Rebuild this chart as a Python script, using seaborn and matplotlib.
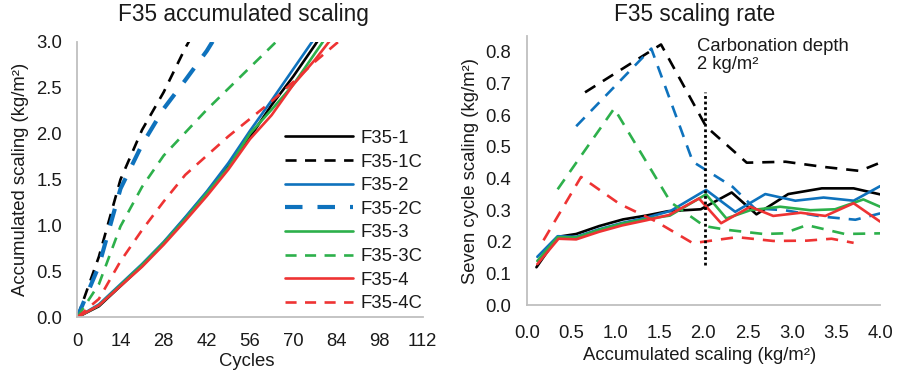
import numpy as np
import pandas as pd
import seaborn as sns
import matplotlib.pyplot as plt

# Left panel: accumulated scaling (kg/m2) every 7 cycles, starting at cycle 0
cum_f35_1 = [0, 0.12, 0.34, 0.56, 0.81, 1.08, 1.36, 1.65, 1.96, 2.31, 2.62, 2.96, 3.32]
cum_f35_1c = [0, 0.66, 1.50, 2.04, 2.45, 2.93, 3.35]
cum_f35_2 = [0, 0.14, 0.36, 0.58, 0.82, 1.09, 1.37, 1.68, 2.03, 2.36, 2.70, 3.04, 3.38]
cum_f35_2c = [0, 0.56, 1.40, 1.88, 2.27, 2.58, 2.90, 3.28]
cum_f35_3 = [0, 0.13, 0.35, 0.57, 0.81, 1.07, 1.35, 1.63, 2.00, 2.26, 2.53, 2.87, 3.21]
cum_f35_3c = [0, 0.36, 0.99, 1.42, 1.76, 2.01, 2.26, 2.49, 2.72, 2.95, 3.18]
cum_f35_4 = [0, 0.13, 0.34, 0.55, 0.79, 1.05, 1.32, 1.61, 1.94, 2.20, 2.53, 2.80, 3.10]
cum_f35_4c = [0, 0.20, 0.61, 0.95, 1.26, 1.55, 1.76, 1.97, 2.16, 2.35, 2.56, 2.78, 2.98, 3.18]

# Right panel: seven cycle scaling vs accumulated scaling
acc_f35_1 = [0.11, 0.35, 0.56, 0.82, 1.09, 1.35, 1.60, 1.97, 2.32, 2.60, 2.96, 3.34, 3.70, 4.00]
rate_f35_1 = [0.12, 0.216, 0.225, 0.25, 0.271, 0.283, 0.297, 0.303, 0.356, 0.287, 0.351, 0.369, 0.369, 0.35]
acc_f35_1c = [0.66, 1.52, 2.03, 2.49, 2.93, 3.35, 3.77, 4.00]
rate_f35_1c = [0.672, 0.823, 0.564, 0.45, 0.453, 0.437, 0.424, 0.45]
acc_f35_2 = [0.12, 0.35, 0.56, 0.82, 1.08, 1.35, 1.63, 2.03, 2.36, 2.70, 3.04, 3.36, 3.70, 4.00]
rate_f35_2 = [0.153, 0.218, 0.216, 0.24, 0.26, 0.276, 0.298, 0.364, 0.295, 0.351, 0.33, 0.34, 0.33, 0.376]
acc_f35_2c = [0.56, 1.41, 1.88, 2.33, 2.58, 2.92, 3.34, 3.72, 4.00]
rate_f35_2c = [0.565, 0.81, 0.453, 0.374, 0.306, 0.30, 0.28, 0.27, 0.29]
acc_f35_3 = [0.12, 0.35, 0.56, 0.82, 1.08, 1.35, 1.62, 2.03, 2.26, 2.53, 2.87, 3.21, 3.49, 3.81, 4.00]
rate_f35_3 = [0.14, 0.215, 0.214, 0.238, 0.258, 0.272, 0.283, 0.35, 0.274, 0.30, 0.311, 0.30, 0.303, 0.334, 0.311]
acc_f35_3c = [0.35, 0.99, 1.63, 2.01, 2.27, 2.68, 2.91, 3.17, 3.60, 4.00]
rate_f35_3c = [0.366, 0.621, 0.325, 0.25, 0.238, 0.225, 0.227, 0.253, 0.225, 0.227]
acc_f35_4 = [0.12, 0.36, 0.56, 0.82, 1.08, 1.35, 1.61, 1.95, 2.20, 2.53, 2.79, 3.10, 3.38, 3.70, 4.00]
rate_f35_4 = [0.13, 0.21, 0.208, 0.232, 0.252, 0.268, 0.285, 0.337, 0.259, 0.311, 0.282, 0.292, 0.282, 0.322, 0.264]
acc_f35_4c = [0.19, 0.615, 1.05, 1.46, 1.88, 2.38, 2.79, 3.17, 3.45, 3.70]
rate_f35_4c = [0.205, 0.405, 0.32, 0.265, 0.196, 0.215, 0.203, 0.204, 0.21, 0.197]

names = ["F35-1", "F35-1C", "F35-2", "F35-2C", "F35-3", "F35-3C", "F35-4", "F35-4C"]
cum_all = [cum_f35_1, cum_f35_1c, cum_f35_2, cum_f35_2c, cum_f35_3, cum_f35_3c, cum_f35_4, cum_f35_4c]
acc_all = [acc_f35_1, acc_f35_1c, acc_f35_2, acc_f35_2c, acc_f35_3, acc_f35_3c, acc_f35_4, acc_f35_4c]
rate_all = [rate_f35_1, rate_f35_1c, rate_f35_2, rate_f35_2c, rate_f35_3, rate_f35_3c, rate_f35_4, rate_f35_4c]

black, blue, green, red = "#000000", "#0E72BD", "#2DB04B", "#EE3333"
colors = dict(zip(names, [black, black, blue, blue, green, green, red, red]))
dashed = {n: n.endswith("C") for n in names}

sns.set_theme(style="white")
plt.rcParams["font.family"] = ["Liberation Sans", "DejaVu Sans"]
txt = "#1a1a1a"
fs = 13.3

fig = plt.figure(figsize=(8.97, 3.75), dpi=100)
ax1 = fig.add_axes([0.0862, 0.1539, 0.385, 0.735])
ax2 = fig.add_axes([0.5872, 0.1859, 0.394, 0.7183])


def draw(ax, x, y, name, lw=1.9, dashes=(4.2, 3.2)):
    sns.lineplot(x=x, y=y, ax=ax, color=colors[name], lw=lw, label=name,
                 estimator=None, sort=False)
    line = ax.get_lines()[-1]
    if dashed[name]:
        line.set_dashes(dashes)
    return line


for name, cum in zip(names, cum_all):
    cycles = np.arange(len(cum)) * 7
    if name == "F35-2C":
        draw(ax1, cycles, cum, name, lw=3.0, dashes=(4.2, 3.6))
    else:
        draw(ax1, cycles, cum, name)

for name, acc, rate in zip(names, acc_all, rate_all):
    draw(ax2, acc, rate, name, dashes=(4.6, 3.4))
ax2.get_legend().remove()

# carbonation depth marker
ax2.plot([2.02, 2.02], [0.127, 0.674], color="black", lw=2.0, ls=(0, (1, 1.0)))
ax2.text(1.93, 0.845, "Carbonation depth\n2 kg/m\u00b2", fontsize=fs, color=txt,
         va="top", ha="left", linespacing=1.15)

ax1.set_xlim(0, 112)
ax1.set_ylim(0, 3.0)
ax1.set_xticks(np.arange(0, 113, 14))
ax1.set_yticks(np.arange(0, 3.01, 0.5))
ax1.set_yticklabels([f"{v:.1f}" for v in np.arange(0, 3.01, 0.5)])

ax2.set_xlim(0, 4.0)
ax2.set_ylim(0, 0.85)
ax2.set_xticks(np.arange(0, 4.01, 0.5))
ax2.set_xticklabels([f"{v:.1f}" for v in np.arange(0, 4.01, 0.5)])
ax2.set_yticks(np.arange(0, 0.81, 0.1))
ax2.set_yticklabels([f"{v:.1f}" for v in np.arange(0, 0.81, 0.1)])

for ax in (ax1, ax2):
    for side in ("top", "right"):
        ax.spines[side].set_visible(False)
    for side in ("left", "bottom"):
        ax.spines[side].set_color("#BFBFBF")
        ax.spines[side].set_linewidth(1.3)
    ax.tick_params(length=0, labelsize=fs, colors=txt)
    ax.tick_params(axis="y", pad=11)
ax1.tick_params(axis="x", pad=11)
ax2.tick_params(axis="x", pad=14)

ax1.set_xlabel("Cycles", fontsize=fs, color=txt)
ax1.set_ylabel("Accumulated scaling (kg/m\u00b2)", fontsize=fs, color=txt)
ax1.xaxis.set_label_coords(0.49, -0.13)
ax1.yaxis.set_label_coords(-0.14, 0.5)

ax2.set_xlabel("Accumulated scaling (kg/m\u00b2)", fontsize=fs, color=txt)
ax2.set_ylabel("Seven cycle scaling (kg/m\u00b2)", fontsize=fs, color=txt)
ax2.xaxis.set_label_coords(0.49, -0.155)
ax2.yaxis.set_label_coords(-0.135, 0.5)

fig.text(243.5 / 897, 1 - 15 / 375, "F35 accumulated scaling", fontsize=16.3,
         color=txt, ha="center", va="center")
fig.text(695 / 897, 1 - 15 / 375, "F35 scaling rate", fontsize=16.3,
         color=txt, ha="center", va="center")

leg = ax1.legend(loc="upper left", bbox_to_anchor=(0.60, 0.68), frameon=False,
                 fontsize=fs, handlelength=3.7, handletextpad=0.4,
                 labelspacing=0.36, borderaxespad=0, borderpad=0)
for t in leg.get_texts():
    t.set_color(txt)

fig.savefig("out.png", dpi=100)
